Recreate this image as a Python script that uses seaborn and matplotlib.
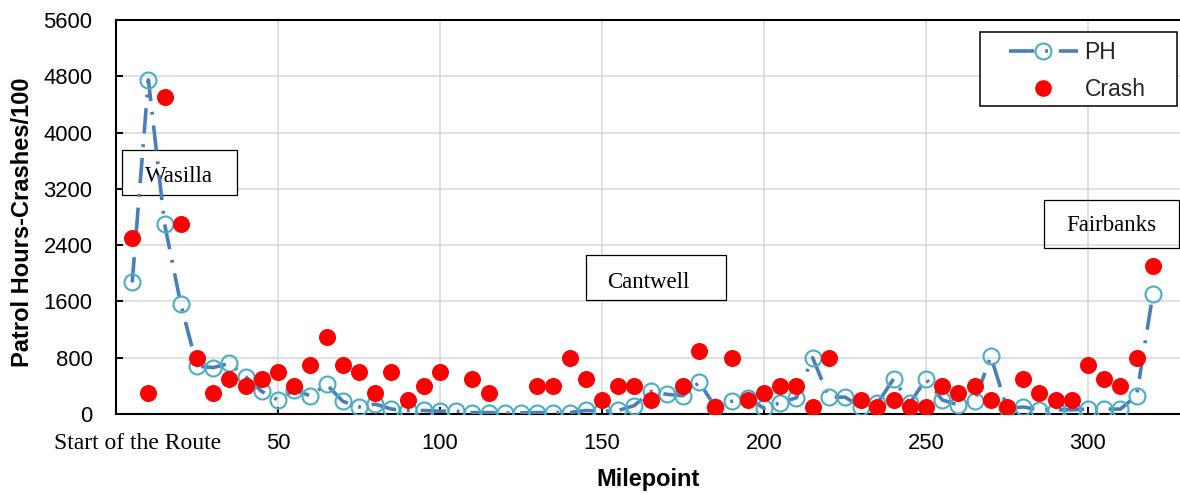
import numpy as np
import pandas as pd
import seaborn as sns
import matplotlib.pyplot as plt
import matplotlib.transforms as mtransforms
from matplotlib.lines import Line2D
from matplotlib.patches import Rectangle

# Milepoints sampled every 5 miles along the route
milepoints = [5, 10, 15, 20, 25, 30, 35, 40, 45, 50, 55, 60, 65, 70, 75, 80,
              85, 90, 95, 100, 105, 110, 115, 120, 125, 130, 135, 140, 145, 150, 155, 160,
              165, 170, 175, 180, 185, 190, 195, 200, 205, 210, 215, 220, 225, 230, 235, 240,
              245, 250, 255, 260, 265, 270, 275, 280, 285, 290, 295, 300, 305, 310, 315, 320]

# Patrol hours per segment
ph = [1870, 4750, 2700, 1560, 680, 660, 720, 530, 320, 200, 340, 260, 420, 180, 100, 140,
      70, 50, 50, 40, 40, 20, 20, 15, 15, 20, 20, 20, 50, 40, 50, 120,
      320, 280, 260, 450, 100, 180, 230, 80, 160, 230, 800, 240, 240, 100, 150, 500,
      150, 500, 200, 130, 180, 820, 80, 100, 60, 60, 60, 70, 70, 70, 260, 1700]

# Crashes / 100 per segment (NaN = no crashes reported)
nan = np.nan
crash = [2500, 300, 4500, 2700, 800, 300, 500, 400, 500, 600, 400, 700, 1100, 700, 600, 300,
         600, 200, 400, 600, nan, 500, 300, nan, nan, 400, 400, 800, 500, 200, 400, 400,
         200, nan, 400, 900, 100, 800, 200, 300, 400, 400, 100, 800, nan, 200, 100, 200,
         100, 100, 400, 300, 400, 200, 100, 500, 300, 200, 200, 700, 500, 400, 800, 2100]

x_ticks = [0, 50, 100, 150, 200, 250, 300]
x_tick_labels = ["Start of the Route", "50", "100", "150", "200", "250", "300"]
y_ticks = [0, 800, 1600, 2400, 3200, 4000, 4800, 5600]

# Town labels: (text, box x0, box x1, box y0, box y1, text x, text y, filled)
towns = [
    ("Wasilla", 1.9, 37.3, 3112, 3752, 19.3, 3380, True),
    ("Cantwell", 145.0, 188.3, 1620, 2259, 164.4, 1870, True),
    ("Fairbanks", 286.4, 328.0, 2359, 3041, 307.1, 2680, False),
]

line_blue = "#4a7ebb"
circle_cyan = "#4bacc6"
crash_red = "#ff0000"
grid_grey = "#d9d9d9"

sns.set_theme(style="white")
plt.rcParams["font.family"] = ["Liberation Sans", "DejaVu Sans"]

W, H = 1180, 494
fig = plt.figure(figsize=(W / 100, H / 100), dpi=100)
ax = fig.add_axes([116 / W, 1 - 414 / H, (W - 116) / W, (414 - 20) / H])

df = pd.DataFrame({"Milepoint": milepoints, "PH": ph, "Crash": crash})

ph_lw = 2.6
ph_dash = (0, (7, 3, 0.8, 3))
sns.lineplot(data=df, x="Milepoint", y="PH", ax=ax, color=line_blue, lw=ph_lw,
             linestyle=ph_dash, marker="o", markersize=11.5,
             markerfacecolor="none", markeredgecolor=circle_cyan,
             markeredgewidth=1.5, zorder=3)
sns.scatterplot(data=df, x="Milepoint", y="Crash", ax=ax, color=crash_red,
                s=150, linewidth=0, zorder=4, legend=False)

ax.set_xlim(0, (W - 116) / 3.24)
ax.set_ylim(0, 5600)
ax.set_yticks(y_ticks)
ax.set_yticklabels([str(v) for v in y_ticks])
ax.set_xticks(x_ticks)
ax.set_xticklabels(x_tick_labels)

ax.grid(True, color=grid_grey, lw=1.1)
ax.set_axisbelow(True)
for side in ["left", "bottom", "top"]:
    ax.spines[side].set_visible(True)
    ax.spines[side].set_color("black")
    ax.spines[side].set_linewidth(1.5)
ax.spines["right"].set_visible(False)

ax.tick_params(axis="both", direction="in", length=5, width=1.4, color="black",
               labelsize=15.8, labelcolor="black")
ax.tick_params(axis="y", pad=17, left=True)
ax.tick_params(axis="x", pad=14, bottom=True)

# First x tick label in serif, nudged right of the origin
first = ax.get_xticklabels()[0]
first.set_fontfamily(["Liberation Serif", "DejaVu Serif"])
first.set_fontsize(17)
first.set_transform(first.get_transform() +
                    mtransforms.ScaledTranslation(21.5 / 100, 0, fig.dpi_scale_trans))

ax.set_xlabel("Milepoint", fontsize=17, fontweight="bold", color="black",
              va="center", ha="center")
ax.xaxis.set_label_coords(0.5, (414 - 479) / 394)
ax.set_ylabel("Patrol Hours-Crashes/100", fontsize=17, fontweight="bold",
              color="black", va="center", ha="center")
ax.yaxis.set_label_coords((23 - 116) / (W - 116), (414 - 222) / 394)

# Town name boxes
for name, bx0, bx1, by0, by1, tx, ty, filled in towns:
    ax.add_patch(Rectangle((bx0, by0), bx1 - bx0, by1 - by0,
                           facecolor="white" if filled else "none",
                           edgecolor="black", lw=0.9, zorder=2))
    ax.text(tx, ty, name, ha="center", va="center", fontsize=16.5,
            family=["Liberation Serif", "DejaVu Serif"], color="black", zorder=2.5)

# Legend with a square frame
ax.add_patch(Rectangle((980 / W, 1 - 106 / H), (1177 - 980) / W, (106 - 32) / H,
                       transform=fig.transFigure, facecolor="white",
                       edgecolor="black", lw=1.1, zorder=4.5, clip_on=False))
handles = [
    Line2D([], [], color=line_blue, lw=ph_lw, linestyle=ph_dash, marker="o",
           markersize=11.5, markerfacecolor="none", markeredgecolor=circle_cyan,
           markeredgewidth=1.5),
    Line2D([], [], color=crash_red, lw=0, marker="o", markersize=12,
           markeredgewidth=0),
]
leg = ax.legend(handles, ["PH", "Crash"], loc="upper left",
                bbox_to_anchor=(1009 / W, 1 - 41 / H), bbox_transform=fig.transFigure,
                frameon=False, borderpad=0, borderaxespad=0, handlelength=3.0,
                handletextpad=0.3, labelspacing=0.6, fontsize=16.5)
leg.set_zorder(6)

fig.savefig("out.png", dpi=100)
